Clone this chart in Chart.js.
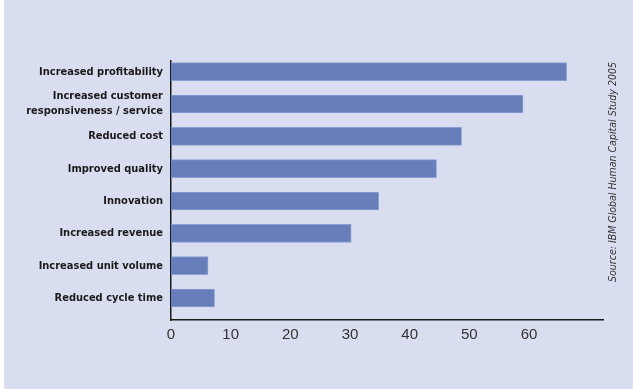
<!DOCTYPE html>
<html>
<head>
<meta charset="utf-8">
<script src="https://cdn.jsdelivr.net/npm/chart.js@4"></script>
<style>
  html, body { margin: 0; padding: 0; background: #fff; }
  #wrap { position: absolute; left: 4px; top: 0; width: 629px; height: 389px; background: #d9ddf0; }
</style>
</head>
<body>
<div id="wrap"><canvas id="benefitChart" width="629" height="389"></canvas></div>
<script>
const categories = [
  "Increased profitability",
  ["Increased customer", "responsiveness / service"],
  "Reduced cost",
  "Improved quality",
  "Innovation",
  "Increased revenue",
  "Increased unit volume",
  "Reduced cycle time"
];
const values = [66.3, 59.0, 48.7, 44.5, 34.8, 30.2, 6.2, 7.3];
const xTicks = [0, 10, 20, 30, 40, 50, 60];
const sourceNote = "Source: IBM Global Human Capital Study 2005";

// rotated source line on the right side
const sourcePlugin = {
  id: "sourceNote",
  afterDraw(chart) {
    const c = chart.ctx;
    c.save();
    c.translate(609, 172);
    c.rotate(-Math.PI / 2);
    c.font = "italic 10.5px 'DejaVu Sans Condensed', sans-serif";
    c.fillStyle = "#333";
    c.textAlign = "center";
    c.textBaseline = "middle";
    c.fillText(sourceNote, 0, 0);
    c.restore();
  }
};

const ctx = document.getElementById("benefitChart").getContext("2d");

window.benefitChart = new Chart(ctx, {
  type: "bar",
  data: {
    datasets: [{
      data: values.map((v, i) => ({ x: v, y: i })),
      backgroundColor: "#677ebb",
      borderColor: "#8d9fd2",
      borderWidth: 1,
      barThickness: 18
    }]
  },
  options: {
    indexAxis: "y",
    responsive: false,
    animation: false,
    layout: { padding: { top: 61, right: 30, bottom: 0, left: 0 } },
    plugins: {
      legend: { display: false },
      tooltip: { enabled: false }
    },
    scales: {
      x: {
        type: "linear",
        min: 0,
        max: 72.4,
        afterBuildTicks: (axis) => { axis.ticks = xTicks.map(v => ({ value: v })); },
        afterFit: (axis) => { axis.height = 69; },
        grid: { display: false, drawTicks: false },
        border: { color: "#1a1a1a", width: 1.5 },
        ticks: {
          color: "#333",
          padding: 6,
          maxRotation: 0,
          font: { family: "'Liberation Sans', Arial, sans-serif", size: 15 }
        }
      },
      y: {
        type: "linear",
        reverse: true,
        offset: false,
        min: -0.33,
        max: 7.68,
        afterBuildTicks: (axis) => { axis.ticks = categories.map((_, i) => ({ value: i })); },
        afterFit: (axis) => { axis.width = 167; },
        grid: { display: false, drawTicks: false },
        border: { color: "#1a1a1a", width: 1.5 },
        ticks: {
          color: "#1a1a1a",
          padding: 8,
          autoSkip: false,
          callback: (val) => categories[val],
          font: { family: "'DejaVu Sans Condensed', sans-serif", size: 11, weight: "bold", lineHeight: 1.35 }
        }
      }
    }
  },
  plugins: [sourcePlugin]
});
</script>
</body>
</html>
